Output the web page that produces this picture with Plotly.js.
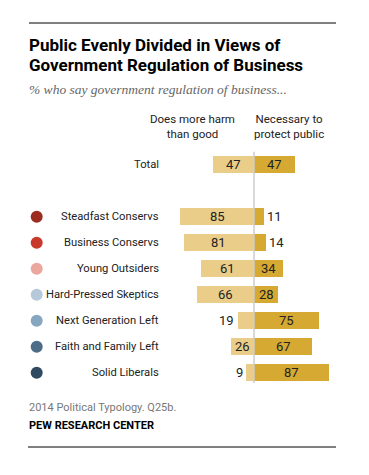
<!DOCTYPE html>
<html>
<head>
<meta charset="utf-8">
<script src="https://cdn.plot.ly/plotly-3.0.1.min.js"></script>
<style>
html,body{margin:0;padding:0;background:#fff;}
#chart{width:369px;height:475px;}
</style>
</head>
<body>
<div id="chart"></div>
<script>
// ---- data ----
const categories = ["Total", "Steadfast Conservs", "Business Conservs", "Young Outsiders", "Hard-Pressed Skeptics", "Next Generation Left", "Faith and Family Left", "Solid Liberals"];
const harmValues = [47, 85, 81, 61, 66, 19, 26, 9];
const protectValues = [47, 11, 14, 34, 28, 75, 67, 87];
const dotColors = [null, "#9B2D20", "#C8382B", "#EBA79D", "#B5C9DA", "#87A6C0", "#4D6C87", "#2F4A61"];
const harmLabel = "Does more harm<br>than good";
const protectLabel = "Necessary to<br>protect public";
const titleLines = ["Public Evenly Divided in Views of", "Government Regulation of Business"];
const subtitle = "% who say government regulation of business...";
const sourceNote = "2014 Political Typology. Q25b.";
const credit = "PEW RESEARCH CENTER";

// ---- layout helpers ----
const W = 369, H = 475;
const pxPerUnit = 0.866;
const zeroPx = 254;
const rowPx = 26;
const firstRowPx = 164.7;
// row positions: Total, gap, then groups
const yPos = categories.map((c, i) => i === 0 ? 0 : i + 1);
const xRange = [-zeroPx / pxPerUnit, (W - zeroPx) / pxPerUnit];
const yTop = -firstRowPx / rowPx;
const yBottom = yTop + H / rowPx;
const insideMin = 22; // minimum value to fit label inside

const LIGHT = "#E9CD89", DARK = "#D5A932";
const font = "Roboto, Liberation Sans, Arial, sans-serif";

const traces = [
  {
    type: "bar", orientation: "h",
    y: yPos, x: harmValues.map(v => -v),
    marker: {color: LIGHT}, width: 0.65,
    hoverinfo: "skip"
  },
  {
    type: "bar", orientation: "h",
    y: yPos, x: protectValues,
    marker: {color: DARK}, width: 0.65,
    hoverinfo: "skip"
  },
  {
    type: "scatter", mode: "markers",
    x: yPos.slice(1).map(() => -(zeroPx - 36.7) / pxPerUnit),
    y: yPos.slice(1),
    marker: {size: 12, color: dotColors.slice(1)},
    hoverinfo: "skip"
  }
];

const annotations = [];
const valFont = {family: font, size: 13, color: "#222"};
categories.forEach((c, i) => {
  annotations.push({xref: "paper", yref: "y", x: 161 / W, y: yPos[i], text: c,
    xanchor: "right", yanchor: "middle", showarrow: false,
    font: {family: font, size: 11.2, color: "#222"}});
  const h = harmValues[i], p = protectValues[i];
  if (h >= insideMin) {
    annotations.push({x: -h / 2, y: yPos[i], text: String(h), showarrow: false, xanchor: "center", yanchor: "middle", font: valFont});
  } else {
    annotations.push({x: -h - 1.5, y: yPos[i], text: String(h), showarrow: false, xanchor: "right", yanchor: "middle", font: valFont});
  }
  if (p >= insideMin) {
    annotations.push({x: p / 2, y: yPos[i], text: String(p), showarrow: false, xanchor: "center", yanchor: "middle", font: valFont});
  } else {
    annotations.push({x: p + 1.5, y: yPos[i], text: String(p), showarrow: false, xanchor: "left", yanchor: "middle", font: valFont});
  }
});

// column headers
annotations.push({xref: "paper", yref: "paper", x: 192.5 / W, y: 1 - 126.5 / H, text: harmLabel,
  showarrow: false, xanchor: "center", yanchor: "middle", align: "center",
  font: {family: font, size: 11.5, color: "#222"}});
annotations.push({xref: "paper", yref: "paper", x: 288.5 / W, y: 1 - 126.5 / H, text: protectLabel,
  showarrow: false, xanchor: "center", yanchor: "middle", align: "center",
  font: {family: font, size: 11.5, color: "#222"}});

// title (two lines, tighter spacing)
[45, 65].forEach((py, k) => {
  annotations.push({xref: "paper", yref: "paper", x: 27 / W, y: 1 - py / H,
    text: "<b>" + titleLines[k] + "</b>",
    showarrow: false, xanchor: "left", yanchor: "middle", align: "left",
    font: {family: "Roboto, Liberation Sans, sans-serif", size: 17, color: "#000"}});
});
// subtitle
annotations.push({xref: "paper", yref: "paper", x: 27 / W, y: 1 - 89.5 / H,
  text: "<i>" + subtitle + "</i>",
  showarrow: false, xanchor: "left", yanchor: "middle", align: "left",
  font: {family: "Liberation Serif, Georgia, serif", size: 13.5, color: "#666"}});
// footer
annotations.push({xref: "paper", yref: "paper", x: 27 / W, y: 1 - 407 / H,
  text: sourceNote,
  showarrow: false, xanchor: "left", yanchor: "middle", align: "left",
  font: {family: font, size: 11, color: "#777"}});
annotations.push({xref: "paper", yref: "paper", x: 27 / W, y: 1 - 425 / H,
  text: "<b>" + credit + "</b>",
  showarrow: false, xanchor: "left", yanchor: "middle", align: "left",
  font: {family: font, size: 11, color: "#000"}});

const shapes = [
  {type: "line", xref: "x", yref: "y", x0: 0, x1: 0, y0: -0.5, y1: yPos[yPos.length - 1] + 0.4,
    line: {color: "#CCCCCC", width: 1.5}},
  {type: "line", xref: "paper", yref: "paper", x0: 29 / W, x1: 336 / W, y0: 1 - 23 / H, y1: 1 - 23 / H,
    line: {color: "#000", width: 1}},
  {type: "line", xref: "paper", yref: "paper", x0: 28 / W, x1: 336 / W, y0: 1 - 447 / H, y1: 1 - 447 / H,
    line: {color: "#000", width: 1}}
];

const layout = {
  width: W, height: H,
  margin: {l: 0, r: 0, t: 0, b: 0},
  paper_bgcolor: "#fff", plot_bgcolor: "rgba(0,0,0,0)",
  barmode: "relative",
  bargap: 0,
  showlegend: false,
  xaxis: {range: xRange, visible: false, fixedrange: true},
  yaxis: {range: [yBottom, yTop], visible: false, fixedrange: true},
  annotations: annotations,
  shapes: shapes
};

Plotly.newPlot("chart", traces, layout, {displayModeBar: false, staticPlot: true});
</script>
</body>
</html>
